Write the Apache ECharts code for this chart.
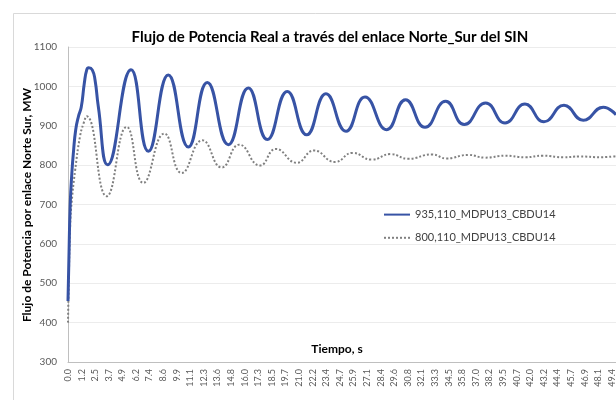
<!DOCTYPE html>
<html>
<head>
<meta charset="utf-8">
<script src="https://cdn.jsdelivr.net/npm/echarts@6/dist/echarts.min.js"></script>
<style>
html, body { margin: 0; padding: 0; background: #fff; }
#chart { width: 616px; height: 400px; }
</style>
</head>
<body>
<div id="chart"></div>
<script>
// tick labels of the time axis (one every 1.234 s)
const xTickLabels = ['0.0', '1.2', '2.5', '3.7', '4.9', '6.2', '7.4', '8.6', '9.9', '11.1',
  '12.3', '13.6', '14.8', '16.0', '17.3', '18.5', '19.7', '21.0', '22.2', '23.4',
  '24.7', '25.9', '27.1', '28.4', '29.6', '30.8', '32.1', '33.3', '34.5', '35.8',
  '37.0', '38.2', '39.5', '40.7', '42.0', '43.2', '44.4', '45.7', '46.9', '48.1', '49.4']
const tickStep = 1.234

const seriesNames = ['935,110_MDPU13_CBDU14', '800,110_MDPU13_CBDU14']

// 935,110_MDPU13_CBDU14
const blueTime = [0, 0.08, 0.2, 0.35, 0.5, 0.7, 0.95, 1.2, 1.48, 1.7, 1.88, 2.2, 2.45, 2.75, 3.6,
  5.72, 7.29, 9.1, 10.92, 12.64, 14.55, 16.36, 18.09, 19.9, 21.66, 23.41, 25.23, 26.95, 28.92,
  30.63, 32.4, 34.27, 35.96, 37.9, 39.66, 41.47, 43.19, 45.01, 46.76, 48.58, 49.73]
const blueMW = [455, 560, 700, 780, 835, 890, 924, 947, 1008, 1042, 1047, 1042, 1017, 949, 801,
  1042, 835, 1029, 846, 1010, 852, 996, 865, 987, 877, 981, 886, 973, 890,
  966, 896, 962, 903, 958, 907, 955, 910, 952, 914, 947, 928]

// 800,110_MDPU13_CBDU14
const grayTime = [0, 0.08, 0.2, 0.33, 0.64, 1.09, 1.4, 1.7, 3.51, 5.33, 6.83, 8.74, 10.32,
  12.19, 13.95, 15.54, 17.42, 18.87, 20.75, 22.32, 24.23, 25.83, 27.56, 29.28, 30.88,
  33.0, 34.36, 36.32, 37.84, 39.66, 41.47, 43.13, 44.95, 46.46, 48.28, 49.73]
const grayMW = [400, 520, 650, 705, 785, 873, 905, 924, 721, 897, 755, 880, 780,
  863, 794, 852, 799, 841, 806, 837, 808, 831, 814, 828, 816,
  827, 817, 826, 819, 824, 820, 824, 820, 822, 820, 823]

const pairs = (xs, ys) => xs.map((x, i) => [x, ys[i]])

const chartInstance = echarts.init(document.getElementById('chart'))
const font = 'Lato, "Liberation Sans", sans-serif'

const option = {
  backgroundColor: '#fff',
  animation: false,
  textStyle: { fontFamily: font },
  grid: {
    left: 68,
    right: 0,
    top: 47,
    bottom: 38,
    outerBoundsMode: 'none',
  },
  legend: {
    left: 378,
    top: 204,
    orient: 'vertical',
    itemGap: 12,
    itemWidth: 26,
    itemHeight: 14,
    // hide the marker circle, keep only the line sample
    itemStyle: { opacity: 0, borderWidth: 0 },
    textStyle: { fontFamily: font, fontSize: 11, color: '#404040' },
    data: seriesNames,
  },
  xAxis: {
    type: 'value',
    min: 0,
    max: 49.73,
    interval: tickStep,
    axisLine: { lineStyle: { color: '#bfbfbf', width: 1 } },
    axisTick: { show: false },
    splitLine: { show: false },
    axisLabel: {
      rotate: 90,
      fontSize: 9,
      color: '#595959',
      margin: 7,
      fontFamily: font,
      formatter: (v) => {
        const i = v / tickStep
        if (Math.abs(i - Math.round(i)) > 0.01) return ''
        return xTickLabels[Math.round(i)] || ''
      },
    },
  },
  yAxis: {
    type: 'value',
    min: 300,
    max: 1100,
    interval: 100,
    axisLine: { show: true, lineStyle: { color: '#bfbfbf', width: 1 } },
    axisTick: { show: false },
    splitLine: { lineStyle: { color: '#ececec', width: 1 } },
    axisLabel: {
      fontSize: 10,
      color: '#595959',
      margin: 11,
      fontFamily: font,
      formatter: (v) => String(v),
    },
  },
  graphic: [
    {
      type: 'rect',
      shape: { x: 13.5, y: 13.5, width: 700, height: 500 },
      style: { fill: 'none', stroke: '#d9d9d9', lineWidth: 1 },
      silent: true,
    },
    {
      type: 'text',
      x: 330,
      y: 37,
      style: {
        text: 'Flujo de Potencia Real a través del enlace Norte_Sur del SIN',
        fontFamily: font,
        fontWeight: 'bold',
        fontSize: 15,
        fill: '#000',
        align: 'center',
        verticalAlign: 'middle',
      },
    },
    {
      type: 'text',
      x: 27,
      y: 205,
      rotation: Math.PI / 2,
      style: {
        text: 'Flujo de Potencia por enlace Norte Sur, MW',
        fontFamily: font,
        fontWeight: 'bold',
        fontSize: 12,
        fill: '#000',
        align: 'center',
        verticalAlign: 'middle',
      },
    },
    {
      type: 'text',
      x: 337,
      y: 349,
      style: {
        text: 'Tiempo, s',
        fontFamily: font,
        fontWeight: 'bold',
        fontSize: 12,
        fill: '#000',
        align: 'center',
        verticalAlign: 'middle',
      },
    },
  ],
  series: [
    {
      name: seriesNames[0],
      type: 'line',
      data: pairs(blueTime, blueMW),
      symbol: 'none',
      smooth: 0.5,
      lineStyle: { color: '#3753a5', width: 3 },
      itemStyle: { color: '#3753a5' },
      z: 3,
    },
    {
      name: seriesNames[1],
      type: 'line',
      data: pairs(grayTime, grayMW),
      symbol: 'none',
      smooth: 0.5,
      lineStyle: { color: '#808080', width: 2, type: [2, 2] },
      itemStyle: { color: '#808080' },
      z: 2,
    },
  ],
}
chartInstance.setOption(option)
</script>
</body>
</html>
